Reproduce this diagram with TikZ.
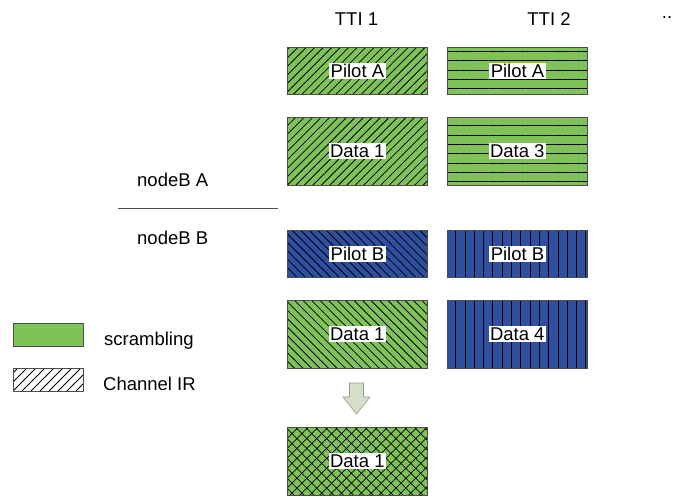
\documentclass[tikz,border=0pt]{standalone}
\usepackage{fontspec}
\setmainfont{Liberation Sans}
\usetikzlibrary{patterns.meta}
\definecolor{scram}{RGB}{126,194,89}
\definecolor{nbblue}{RGB}{47,79,160}
\definecolor{arrowfill}{RGB}{214,224,200}
\begin{document}
\begin{tikzpicture}[x=1pt,y=-1pt,
  txt/.style={font=\fontsize{18.5}{20}\selectfont, inner sep=0pt},
  lbl/.style={fill=white, inner sep=1.5pt, font=\fontsize{18.5}{20}\selectfont},
  cell/.style={draw=black!70, line width=0.6pt, minimum width=140pt,
               anchor=north west, inner sep=0pt},
  pilot/.style={cell, minimum height=47pt},
  datab/.style={cell, minimum height=68pt},
  ongreen/.style={preaction={fill=scram}},
  onblue/.style={preaction={fill=nbblue}},
  hne/.style={pattern={Lines[angle=45,distance=6pt,line width=0.8pt]}},
  hnw/.style={pattern={Lines[angle=-45,distance=6pt,line width=0.8pt]}},
  hhor/.style={pattern={Lines[angle=0,distance=9.3pt,line width=1pt]}},
  hver/.style={pattern={Lines[angle=90,distance=9.3pt,line width=1pt]}},
  hcross/.style={pattern={Hatch[angle=45,distance=7pt,line width=0.7pt]}},
  downarrow/.style={draw=black!40, fill=arrowfill, line width=0.6pt},
  hatchline/.style={line width=0.9pt},
]
\useasboundingbox (0,0) rectangle (673,498);

% column headers
\node[txt, anchor=base] (tti1) at (356.5,25) {TTI 1};
\node[txt, anchor=base] (tti2) at (549,25) {TTI 2};
\node[txt, anchor=base] (more) at (667,18) {..};

% node B split
\node[txt, anchor=base west] (nba) at (137,186) {nodeB A};
\draw[black!70, line width=0.8pt] (118,208) coordinate (sepl) -- (278,208) coordinate (sepr);
\node[txt, anchor=base west] (nbb) at (137,244) {nodeB B};

% TTI 1 blocks
\node[pilot, ongreen, hne, label={[lbl]center:Pilot A}] (pa1) at (287,47) {};
\node[datab, ongreen, hne, label={[lbl]center:Data 1}] (d1) at (287,117) {};
\node[pilot, onblue, hnw, label={[lbl]center:Pilot B}] (pb1) at (287,230) {};
\node[datab, ongreen, hnw, label={[lbl]center:Data 1}] (d1b) at (287,300) {};

% TTI 2 blocks
\node[pilot, ongreen, hhor, label={[lbl]center:Pilot A}] (pa2) at (447,47) {};
\node[datab, ongreen, hhor, label={[lbl]center:Data 3}] (d3) at (447,117) {};
\node[pilot, onblue, hver, label={[lbl]center:Pilot B}] (pb2) at (447,230) {};
\node[datab, onblue, hver, label={[lbl]center:Data 4}] (d4) at (447,300) {};

% combined result below a block arrow
\coordinate (arrtip) at (356.5,414);
\draw[downarrow] (349.5,383) -- (363.5,383) -- (363.5,397) -- (370,397)
  -- (arrtip) -- (343,397) -- (349.5,397) -- cycle;
\node[datab, ongreen, hcross, label={[lbl]center:Data 1}] (d1c) at (287,427) {};

% legend
\node[cell, minimum width=70pt, minimum height=23pt, fill=scram] (legs) at (13,323) {};
\node[txt, anchor=base west] (legst) at (104,345) {scrambling};
\node[cell, minimum width=70pt, minimum height=23pt, fill=white] (legc) at (13,368) {};
\begin{scope}
  \clip (legc.south west) rectangle (legc.north east);
  \foreach \i in {-27,-18,...,90} \draw[hatchline] (13+\i,391) -- ++(23,-23);
\end{scope}
\draw[black!70, line width=0.6pt] (legc.south west) rectangle (legc.north east);
\node[txt, anchor=base west] (legct) at (103,390) {Channel IR};
\end{tikzpicture}
\end{document}
